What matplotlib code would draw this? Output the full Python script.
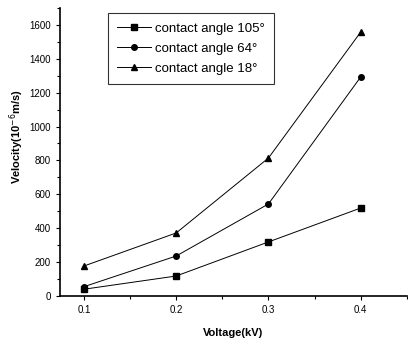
import matplotlib
matplotlib.use('Agg')
import matplotlib.pyplot as plt
from matplotlib.ticker import MultipleLocator

plt.rcParams['font.family'] = ['Liberation Sans', 'DejaVu Sans']

voltage = [0.1, 0.2, 0.3, 0.4]
v_105 = [40, 118, 319, 519]
v_64 = [55, 236, 543, 1292]
v_18 = [177, 372, 814, 1557]
labels = ['contact angle 105°', 'contact angle 64°', 'contact angle 18°']

fig = plt.figure(figsize=(4.08, 3.43), dpi=100)
ax = fig.add_axes([0.147, 0.137, 0.85, 0.84])

ax.plot(voltage, v_105, '-s', color='black', lw=0.7, ms=4, label=labels[0])
ax.plot(voltage, v_64, '-o', color='black', lw=0.7, ms=4, label=labels[1])
ax.plot(voltage, v_18, '-^', color='black', lw=0.7, ms=4.5, label=labels[2])

ax.set_xlim(0.074, 0.45)
ax.set_ylim(0, 1700)
ax.xaxis.set_major_locator(MultipleLocator(0.1))
ax.xaxis.set_minor_locator(MultipleLocator(0.05))
ax.yaxis.set_major_locator(MultipleLocator(200))
ax.yaxis.set_minor_locator(MultipleLocator(100))
ax.tick_params(which='both', direction='out', labelsize=7, width=0.8)
ax.tick_params(which='major', length=3)
ax.tick_params(which='minor', length=2)
ax.spines['top'].set_visible(False)
ax.spines['right'].set_visible(False)
ax.spines['left'].set_linewidth(1.2)
ax.spines['bottom'].set_linewidth(1.2)

ax.set_xlabel('Voltage(kV)', fontsize=8, fontweight='bold', labelpad=9)
ax.set_ylabel('Velocity(10$^{-6}$m/s)', fontsize=8, fontweight='bold')
ax.yaxis.set_label_coords(-0.098, 0.552)

leg = ax.legend(loc='upper left', bbox_to_anchor=(0.138, 0.982), fontsize=9.5,
                fancybox=False, edgecolor='black', handlelength=2.6,
                handletextpad=0.3, borderaxespad=0, borderpad=0.7,
                labelspacing=0.6)
leg.get_frame().set_linewidth(0.8)

fig.savefig('out.png', dpi=100)
